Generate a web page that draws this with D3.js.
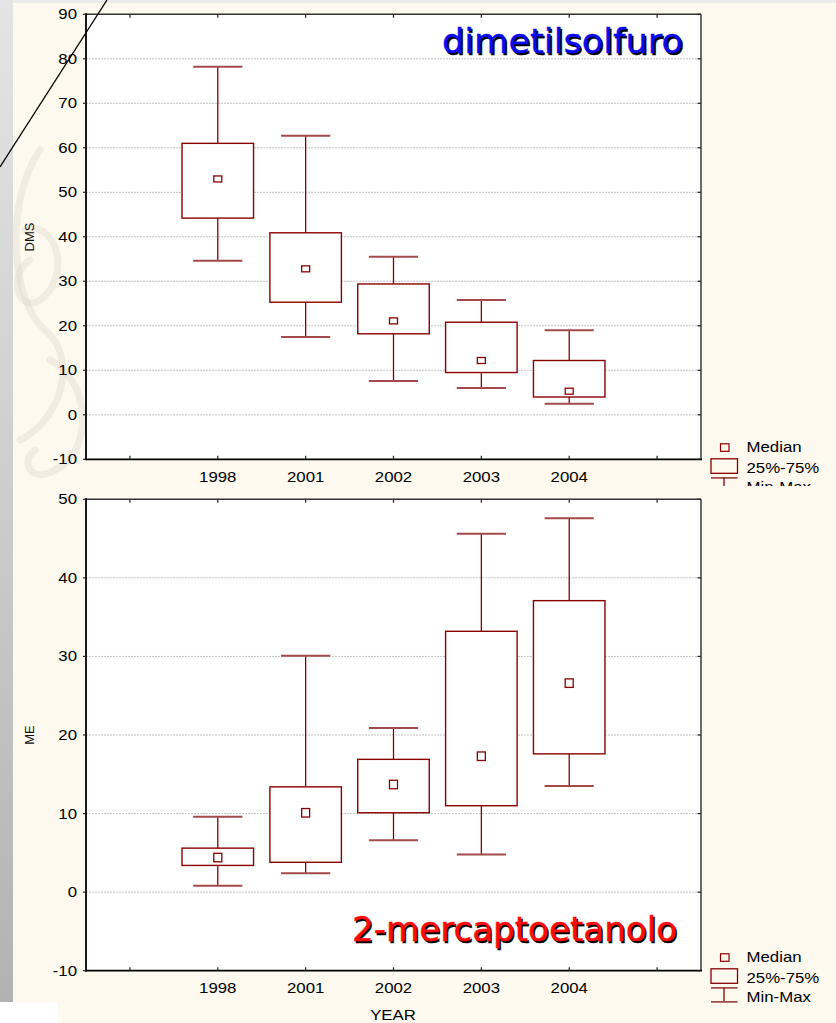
<!DOCTYPE html>
<html>
<head>
<meta charset="utf-8">
<script src="https://cdn.jsdelivr.net/npm/d3@7"></script>
<style>
  html, body { margin: 0; padding: 0; background: #fdf9ee; }
  svg { display: block; }
</style>
</head>
<body>
<svg id="chart" width="836" height="1023"></svg>
<script>
// ---- data -------------------------------------------------------------
const years = ["1998", "2001", "2002", "2003", "2004"];

// dimetilsolfuro (DMS)
const dmsMin    = [34.6, 17.5,  7.6,  6.0,  2.5];
const dmsQ1     = [44.2, 25.3, 18.2,  9.5,  4.0];
const dmsMedian = [53.0, 32.8, 21.1, 12.2,  5.3];
const dmsQ3     = [61.0, 40.9, 29.4, 20.8, 12.2];
const dmsMax    = [78.2, 62.7, 35.5, 25.8, 19.0];

// 2-mercaptoetanolo (ME)
const meMin     = [ 0.8,  2.4,  6.6,  4.8, 13.5];
const meQ1      = [ 3.4,  3.8, 10.1, 11.0, 17.6];
const meMedian  = [ 4.4, 10.1, 13.7, 17.3, 26.6];
const meQ3      = [ 5.6, 13.4, 16.9, 33.2, 37.1];
const meMax     = [ 9.6, 30.1, 20.9, 45.6, 47.6];

const dmsTicks = [-10, 0, 10, 20, 30, 40, 50, 60, 70, 80, 90];
const meTicks  = [-10, 0, 10, 20, 30, 40, 50];
const legendLabels = ["Median", "25%-75%", "Min-Max"];
const xTitle = "YEAR";

// ---- setup ------------------------------------------------------------
const W = 836, H = 1023;
const svg = d3.select("#chart");
const BOX_COL = "#8b0000";
const CAP_COL = "#a44a4a";
const FONT = "'Liberation Sans', Arial, sans-serif";

// page background and frame
const defs = svg.append("defs");
const grad = defs.append("linearGradient").attr("id", "strip")
  .attr("x1", 0).attr("y1", 0).attr("x2", 0).attr("y2", 1);
grad.append("stop").attr("offset", "0%").attr("stop-color", "#e4e4e4");
grad.append("stop").attr("offset", "45%").attr("stop-color", "#cfcfcf");
grad.append("stop").attr("offset", "100%").attr("stop-color", "#b2b2b2");

svg.append("rect").attr("width", W).attr("height", H).attr("fill", "#fdf9ee");
svg.append("rect").attr("width", W).attr("height", 3).attr("fill", "#ebebeb");
svg.append("rect").attr("x", 0).attr("y", 0).attr("width", 13).attr("height", 1002)
  .attr("fill", "url(#strip)");
svg.append("rect").attr("x", 0).attr("y", 1002).attr("width", 58).attr("height", 21)
  .attr("fill", "#ffffff");

// faint ornament on the left margin
const orn = svg.append("g").attr("fill", "none").attr("stroke", "#cfc9bb")
  .attr("stroke-opacity", 0.25).attr("stroke-width", 7).attr("stroke-linecap", "round");
orn.append("path").attr("d", "M40,150 C5,200 10,300 45,330 C80,360 60,420 20,440");
orn.append("path").attr("d", "M25,230 C60,220 70,280 40,300 C15,315 10,270 30,260");
orn.append("path").attr("d", "M50,360 C90,380 95,450 55,470 C30,485 20,460 35,450");

// stretched-text helper (labels are drawn slightly wide)
function stext(g, x, y, str, anchor, size, fill) {
  return g.append("text")
    .attr("transform", `translate(${x},${y}) scale(1.2,1)`)
    .attr("text-anchor", anchor || "start")
    .attr("font-family", FONT)
    .attr("font-size", size || 14)
    .attr("fill", fill || "#000")
    .text(str);
}

const xScale = d3.scaleLinear().domain([0.5, 7.5]).range([86, 701]);
const xTickVals = [1, 2, 3, 4, 5, 6, 7];
const catPos = i => i + 2;

function drawPanel(cfg) {
  const g = svg.append("g");
  const y = d3.scaleLinear().domain([cfg.ticks[0], cfg.ticks[cfg.ticks.length - 1]])
    .range([cfg.bottom, cfg.top]);
  const x0 = xScale.range()[0], x1 = xScale.range()[1];

  // plot background
  g.append("rect").attr("x", x0).attr("y", cfg.top)
    .attr("width", x1 - x0).attr("height", cfg.bottom - cfg.top).attr("fill", "#fff");

  // grid lines
  g.selectAll(".grid").data(cfg.ticks.slice(1, -1)).join("line")
    .attr("x1", x0).attr("x2", x1)
    .attr("y1", d => y(d)).attr("y2", d => y(d))
    .attr("stroke", "#c2c2c2").attr("stroke-width", 1).attr("stroke-dasharray", "2,1");

  // title with drop shadow
  [["#000", 1.5], [cfg.titleColor, 0]].forEach(([c, o]) => {
    g.append("text")
      .attr("x", cfg.titleX + o).attr("y", cfg.titleY + o)
      .attr("text-anchor", "end")
      .attr("font-family", "'DejaVu Sans', sans-serif")
      .attr("font-size", 34)
      .attr("textLength", cfg.titleLen).attr("lengthAdjust", "spacingAndGlyphs")
      .attr("fill", c).attr("stroke", c).attr("stroke-width", 0.4)
      .text(cfg.title);
  });

  // boxes
  const stats = years.map((yr, i) => ({
    yr, i, min: cfg.min[i], q1: cfg.q1[i], med: cfg.med[i], q3: cfg.q3[i], max: cfg.max[i]
  }));
  const boxHalf = 0.407, capHalf = 0.28;
  const b = g.selectAll(".box").data(stats).join("g");
  // whiskers
  b.append("line")
    .attr("x1", d => xScale(catPos(d.i))).attr("x2", d => xScale(catPos(d.i)))
    .attr("y1", d => y(d.max)).attr("y2", d => y(d.q3))
    .attr("stroke", BOX_COL).attr("stroke-width", 1.3);
  b.append("line")
    .attr("x1", d => xScale(catPos(d.i))).attr("x2", d => xScale(catPos(d.i)))
    .attr("y1", d => y(d.q1)).attr("y2", d => y(d.min))
    .attr("stroke", BOX_COL).attr("stroke-width", 1.3);
  ["max", "min"].forEach(k => {
    b.append("line")
      .attr("x1", d => xScale(catPos(d.i) - capHalf)).attr("x2", d => xScale(catPos(d.i) + capHalf))
      .attr("y1", d => y(d[k])).attr("y2", d => y(d[k]))
      .attr("stroke", CAP_COL).attr("stroke-width", 2);
  });
  // 25%-75% box
  b.append("rect")
    .attr("x", d => xScale(catPos(d.i) - boxHalf))
    .attr("width", d => xScale(catPos(d.i) + boxHalf) - xScale(catPos(d.i) - boxHalf))
    .attr("y", d => y(d.q3)).attr("height", d => y(d.q1) - y(d.q3))
    .attr("fill", "#fff").attr("stroke", BOX_COL).attr("stroke-width", 1.4);
  // median marker
  b.append("rect")
    .attr("x", d => xScale(catPos(d.i)) - 4)
    .attr("y", d => y(d.med) - cfg.medH / 2)
    .attr("width", 8).attr("height", cfg.medH)
    .attr("fill", "#fff").attr("stroke", BOX_COL).attr("stroke-width", 1.3);

  // frame
  g.append("line").attr("x1", x0).attr("x2", x1).attr("y1", cfg.top).attr("y2", cfg.top)
    .attr("stroke", "#333").attr("stroke-width", 1.6);
  g.append("line").attr("x1", x1).attr("x2", x1).attr("y1", cfg.top).attr("y2", cfg.bottom)
    .attr("stroke", "#6a6a6a").attr("stroke-width", 2);
  g.append("line").attr("x1", x0).attr("x2", x1 + 1).attr("y1", cfg.bottom).attr("y2", cfg.bottom)
    .attr("stroke", "#000").attr("stroke-width", 1.8);
  g.append("line").attr("x1", x0).attr("x2", x0).attr("y1", cfg.top - 1).attr("y2", cfg.bottom + 1)
    .attr("stroke", "#000").attr("stroke-width", 1.8);

  // x ticks (inside, top and bottom)
  xTickVals.forEach(v => {
    const xx = xScale(v);
    g.append("line").attr("x1", xx).attr("x2", xx).attr("y1", cfg.top).attr("y2", cfg.top + 3.5)
      .attr("stroke", "#222").attr("stroke-width", 1.2);
    g.append("line").attr("x1", xx).attr("x2", xx).attr("y1", cfg.bottom - 3.5).attr("y2", cfg.bottom)
      .attr("stroke", "#222").attr("stroke-width", 1.2);
  });
  // y ticks: outside on the left, inside on the right
  cfg.ticks.forEach(v => {
    const yy = y(v);
    g.append("line").attr("x1", x0 - 3).attr("x2", x0).attr("y1", yy).attr("y2", yy)
      .attr("stroke", "#222").attr("stroke-width", 1.2);
    g.append("line").attr("x1", x1 - 3.5).attr("x2", x1).attr("y1", yy).attr("y2", yy)
      .attr("stroke", "#222").attr("stroke-width", 1.2);
    stext(g, 77, yy + 5, String(v), "end");
  });
  // category labels
  years.forEach((yr, i) => stext(g, xScale(catPos(i)), cfg.bottom + 22.5, yr, "middle"));

  // y axis title
  g.append("text")
    .attr("transform", `translate(34,${cfg.yLabelY}) rotate(-90)`)
    .attr("text-anchor", "middle")
    .attr("font-family", FONT).attr("font-size", 13).attr("fill", "#111")
    .text(cfg.yLabel);

  // legend
  const clipId = "clip" + cfg.yLabel;
  defs.append("clipPath").attr("id", clipId).append("rect")
    .attr("x", 700).attr("y", cfg.legendBase - 20).attr("width", 136).attr("height", cfg.legendClip - cfg.legendBase + 20);
  const lg = g.append("g").attr("clip-path", `url(#${clipId})`);
  const lb = cfg.legendBase;
  lg.append("rect").attr("x", 720.5).attr("y", lb - 8.5).attr("width", 8.5).attr("height", 7.5)
    .attr("fill", "none").attr("stroke", BOX_COL).attr("stroke-width", 1.2);
  lg.append("rect").attr("x", 711).attr("y", lb + 6.5).attr("width", 26.5).attr("height", 14.5)
    .attr("fill", "none").attr("stroke", BOX_COL).attr("stroke-width", 1.3);
  lg.append("line").attr("x1", 711).attr("x2", 737.5).attr("y1", lb + 25.5).attr("y2", lb + 25.5)
    .attr("stroke", CAP_COL).attr("stroke-width", 1.8);
  lg.append("line").attr("x1", 724).attr("x2", 724).attr("y1", lb + 25.5).attr("y2", lb + 39.5)
    .attr("stroke", BOX_COL).attr("stroke-width", 1.3);
  lg.append("line").attr("x1", 711).attr("x2", 737.5).attr("y1", lb + 39.5).attr("y2", lb + 39.5)
    .attr("stroke", CAP_COL).attr("stroke-width", 1.8);
  legendLabels.forEach((t, k) => stext(lg, 746.5, lb + [0, 20.5, 40][k], t, "start"));
}

drawPanel({
  top: 14.3, bottom: 459.3, ticks: dmsTicks,
  min: dmsMin, q1: dmsQ1, med: dmsMedian, q3: dmsQ3, max: dmsMax,
  medH: 6, yLabel: "DMS", yLabelY: 237,
  title: "dimetilsolfuro", titleColor: "#0a0af0", titleX: 683, titleY: 53, titleLen: 241,
  legendBase: 452.3, legendClip: 486
});

drawPanel({
  top: 499.3, bottom: 970.7, ticks: meTicks,
  min: meMin, q1: meQ1, med: meMedian, q3: meQ3, max: meMax,
  medH: 8.5, yLabel: "ME", yLabelY: 735,
  title: "2-mercaptoetanolo", titleColor: "#ff0a0a", titleX: 677, titleY: 941, titleLen: 325,
  legendBase: 962.3, legendClip: 1023
});

// x axis title
stext(svg, 393, 1020, xTitle, "middle");

// diagonal pointer line across the upper-left corner
svg.append("line").attr("x1", 0).attr("y1", 167).attr("x2", 107).attr("y2", 0)
  .attr("stroke", "#000").attr("stroke-width", 1.3);
</script>
</body>
</html>
